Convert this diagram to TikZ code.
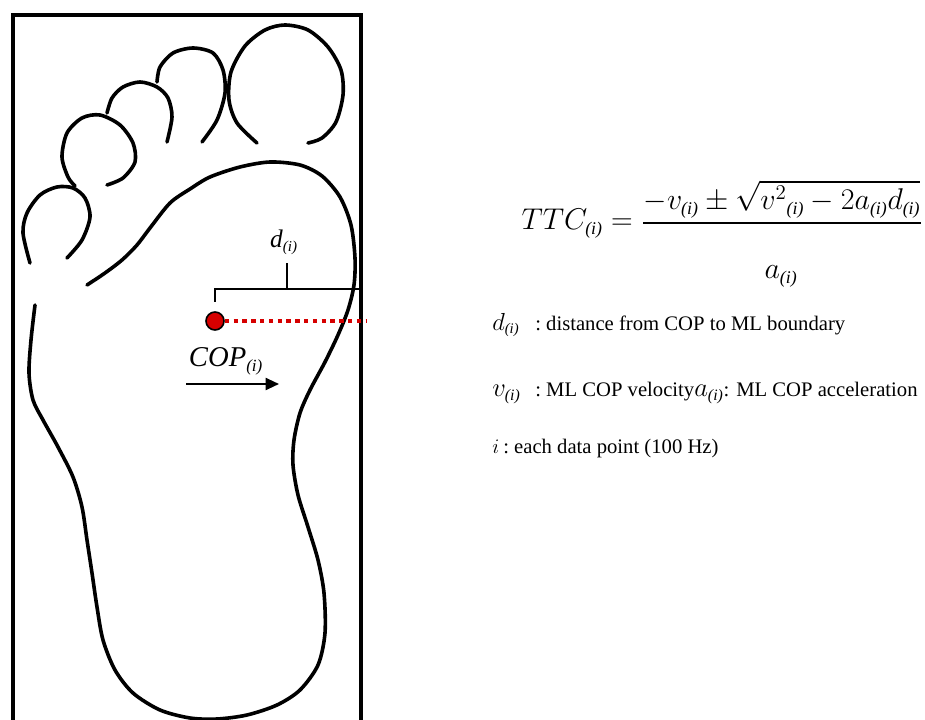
\RequirePackage{fix-cm}
\documentclass[tikz,border=0pt]{standalone}
\usepackage{amsmath}
\usepackage{graphicx}
\usepackage{fontspec}
\setmainfont{Liberation Serif}
\usetikzlibrary{arrows.meta}
\definecolor{copred}{RGB}{214,0,0}
% small italic sample index used as a subscript
\newcommand{\isub}{_{\textit{\scalebox{0.85}{(i)}}}}
\begin{document}
\begin{tikzpicture}[x=0.75pt,y=-0.75pt,
  frame/.style={line width=3pt},
  footline/.style={line width=2.7pt, line cap=round, line join=round},
  thinline/.style={line width=1.5pt},
  reddots/.style={draw=copred, line width=2.7pt, dash pattern=on 3.3pt off 3.3pt},
  formula/.style={inner sep=0pt, font=\fontsize{22.5pt}{26pt}\selectfont},
  desc/.style={inner sep=0pt, font=\fontsize{15.5pt}{18pt}\selectfont},
  symb/.style={inner sep=0pt, font=\fontsize{18.5pt}{20pt}\selectfont},
  footlabel/.style={inner sep=0pt}]
\useasboundingbox (0,0) rectangle (925,720);

% frame around the footprint (open at the bottom)
\draw[frame] (13,722) -- (13,15) -- (361,15) -- (361,722);

% toes
\draw[footline] plot[smooth] coordinates {(257,143) (237,123) (229,100) (231,72) (245,46) (265,30) (285,25) (308,30) (328,47) (341,70) (343,95) (336,122) (322,138) (308,143)};
\draw[footline] plot[smooth] coordinates {(202,142) (217,120) (225,93) (223,70) (213,53) (193,48) (173,53) (160,67) (157,82)};
\draw[footline] plot[smooth] coordinates {(167,142) (172,117) (168,98) (157,87) (140,82) (123,87) (112,98) (107,113)};
\draw[footline] plot[smooth] coordinates {(107,185) (123,178) (135,162) (133,143) (120,125) (100,115) (82,118) (67,133) (62,157) (68,177) (75,186)};
\draw[footline] plot[smooth] coordinates {(67,258) (82,240) (90,217) (85,198) (73,188) (57,187) (40,195) (27,213) (23,233) (30,263)};

% sole outline
\draw[footline] plot[smooth] coordinates {(87,285) (105,273) (122,260) (137,245) (150,228) (170,203) (190,189) (210,177) (240,167) (270,162) (300,165) (322,176) (340,197) (351,225) (355,258) (354,285) (348,310) (338,335) (325,362) (310,390) (300,413) (294,440) (293,465) (298,495) (308,527) (318,560) (324,593) (325,633) (318,665) (300,690) (277,705) (247,715) (217,719) (190,718) (160,710) (133,693) (115,670) (103,640) (97,607) (92,573) (87,540) (82,507) (73,477) (58,447) (43,420) (33,400) (29,373) (31,340) (35,305)};

% distance bracket
\coordinate (bl) at (215,302);
\coordinate (blt) at (215,289);
\coordinate (brt) at (360,289);
\coordinate (br) at (360,302);
\coordinate (bm) at (287,289);
\coordinate (bmt) at (287,263);
\draw[thinline] (bl) -- (blt) -- (brt) -- (br);
\draw[thinline] (bm) -- (bmt);
\node[footlabel, font=\fontsize{19pt}{22pt}\selectfont, anchor=base] (dlabel) at (284,248) {$\textit{d}\isub$};

% centre of pressure and its distance to the boundary
\node[circle, fill=copred, draw=black, line width=1.2pt, minimum size=13.5pt, inner sep=0pt] (cop) at (215,321) {};
\coordinate (mlb) at (366,321);
\draw[reddots] (cop.east) -- (mlb);
\node[footlabel, font=\fontsize{21.5pt}{24pt}\selectfont, anchor=base] (coplabel) at (226,367) {$\textit{COP}\isub$};
\coordinate (arrs) at (186,384);
\coordinate (arre) at (279,384);
\draw[thinline, -{Triangle[length=10pt,width=9pt]}] (arrs) -- (arre);

% time-to-contact formula
\node[formula, anchor=base east] (ttc) at (633,230) {$TTC\isub\;{=}$};
\node[formula, anchor=base] (num) at (782,210) {$-v\isub \pm \sqrt{\smash[b]{v^2{}\isub - 2a\isub d\isub}}$};
\node[formula, anchor=base] (den) at (781,279) {$a\isub$};
\coordinate (barl) at (643,223);
\coordinate (barr) at (921,223);
\draw[line width=1.4pt] (barl) -- (barr);

% legend
\node[symb, anchor=base west] (sd) at (492,330) {$d\isub$};
\node[desc, anchor=base west] (ld) at (535,330) {:\ distance from COP to ML boundary};
\node[symb, anchor=base west, font=\fontsize{20pt}{22pt}\selectfont] (sv) at (492,397) {$v\isub$};
\node[desc, anchor=base west] (lv) at (535,397) {:\ ML COP velocity{\fontsize{20pt}{22pt}\selectfont$a\isub$}: ML COP acceleration};
\node[desc, anchor=base west] (si) at (492,453) {$i$};
\node[desc, anchor=base west] (li) at (503,453) {:\ each data point (100 Hz)};
\end{tikzpicture}
\end{document}
